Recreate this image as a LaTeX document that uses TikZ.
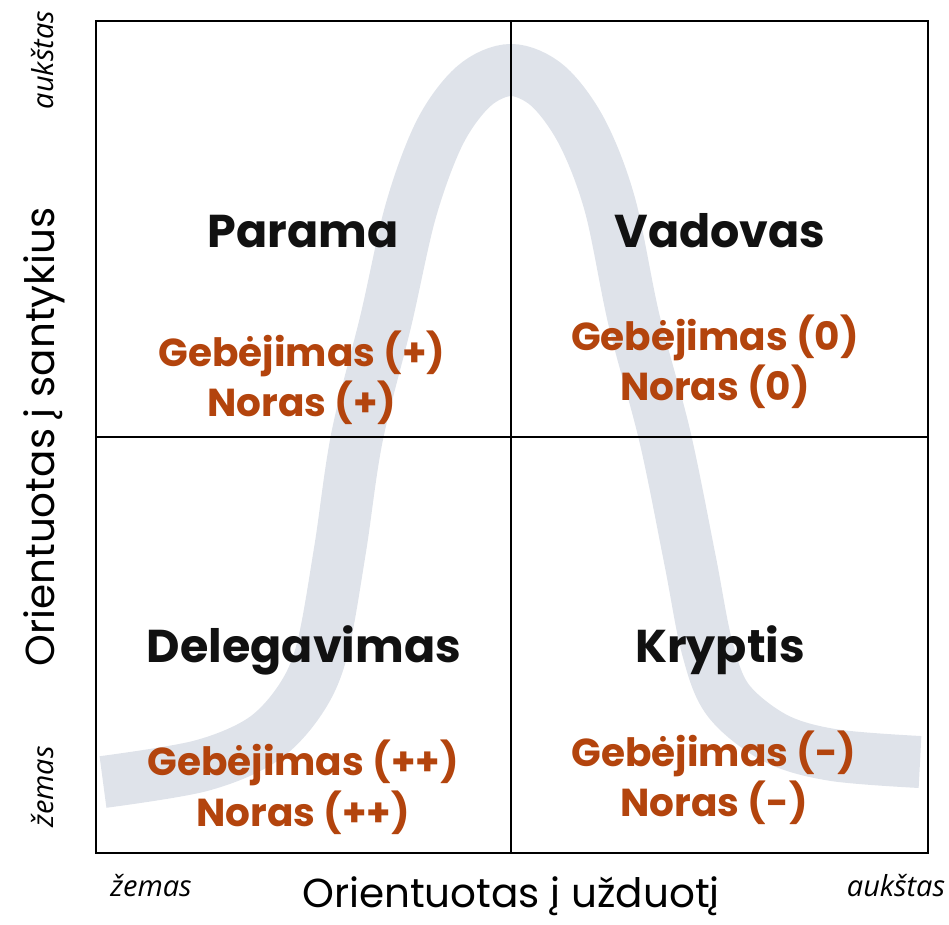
\documentclass[tikz,border=0pt]{standalone}
\usepackage{fontspec}
\setmainfont{Poppins}
\newfontfamily\lygisfont{Open Sans}
\definecolor{juosta}{HTML}{DFE3EA}
\definecolor{ruda}{HTML}{B3440D}
\definecolor{tamsi}{HTML}{111111}
\tikzset{
  antraste/.style={font=\bfseries\fontsize{46}{50}\selectfont,text=tamsi,anchor=base,inner sep=0pt},
  vertinimas/.style={font=\bfseries\fontsize{39}{51}\selectfont,text=ruda,anchor=base,inner sep=0pt},
  asis/.style={font=\fontsize{40.5}{42}\selectfont,anchor=base,inner sep=0pt},
  lygis/.style={font=\lygisfont\itshape\fontsize{29}{30}\selectfont,anchor=base,inner sep=0pt},
}

\begin{document}
\begin{tikzpicture}[x=1pt,y=-1pt,line width=2pt]
\useasboundingbox (0,0) rectangle (949,924);
% varpo kreive
\draw[juosta,line width=52pt] plot[smooth,tension=0.55] coordinates {
  (103,782) (200,766) (262,740) (300,700) (322,650) (340,550) (357,437)
  (386,320) (411,210) (440,132) (474,86) (511,70) (548,86) (582,132)
  (610,205) (634,320) (665,437) (690,560) (707,647) (728,700) (775,738)
  (833,755) (920,762)};
% remas ir ketvirciai
\draw[line width=2.5pt] (96,21) rectangle (928,853);
\draw (511,21) -- (511,853);
\draw (96,437) -- (928,437);
% ketvirciu pavadinimai
\node[antraste] (parama) at (303,247) {Parama};
\node[antraste] (vadovas) at (720,247) {Vadovas};
\node[antraste] (deleg) at (304,662) {Delegavimas};
\node[antraste] (kryptis) at (720,662) {Kryptis};
% gebejimas ir noras
\node[vertinimas] (gebA) at (302,366) {Gebėjimas (+)};
\node[vertinimas] (norA) at (302,416) {Noras (+)};
\node[vertinimas] (gebB) at (715,350) {Gebėjimas (0)};
\node[vertinimas] (norB) at (715,400) {Noras (0)};
\node[vertinimas] (gebC) at (303,775) {Gebėjimas (++)};
\node[vertinimas] (norC) at (303,826) {Noras (++)};
\node[vertinimas] (gebD) at (714,766) {Gebėjimas (-)};
\node[vertinimas] (norD) at (714,816) {Noras (-)};
% asys
\node[asis] (asisX) at (511,907) {Orientuotas į užduotį};
\node[asis,rotate=90] (asisY) at (54,437) {Orientuotas į santykius};
\node[lygis] (xzem) at (151,896) {žemas};
\node[lygis] (xauk) at (896,896) {aukštas};
\node[lygis,rotate=90] (yzem) at (53,787) {žemas};
\node[lygis,rotate=90] (yauk) at (53,60) {aukštas};
\end{tikzpicture}
\end{document}
